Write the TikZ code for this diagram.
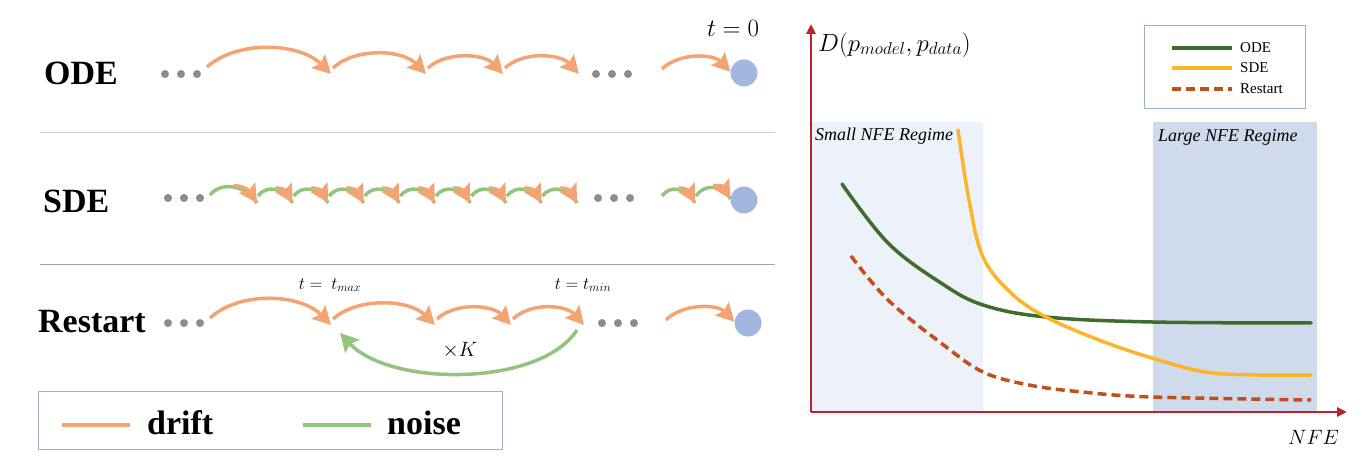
\documentclass[tikz,border=0pt]{standalone}
\usepackage{fontspec}
\setmainfont{Liberation Serif}
\usetikzlibrary{arrows.meta,calc}
\definecolor{driftc}{RGB}{243,164,114}
\definecolor{noisec}{RGB}{147,196,125}
\definecolor{dotc}{RGB}{140,140,140}
\definecolor{endc}{RGB}{162,182,222}
\definecolor{axisc}{RGB}{192,32,40}
\definecolor{odec}{RGB}{62,108,42}
\definecolor{sdec}{RGB}{252,180,40}
\definecolor{resc}{RGB}{190,80,30}
\definecolor{smallc}{RGB}{237,241,249}
\definecolor{largec}{RGB}{207,219,236}
\definecolor{legc}{RGB}{155,175,218}
\definecolor{sepa}{RGB}{205,205,205}
\definecolor{sepb}{RGB}{165,165,165}
\tikzset{
  tip/.style={-{Stealth[length=18pt,width=19pt,inset=3pt]}},
  drift/.style={draw=driftc,line width=3.5pt,tip},
  driftnt/.style={draw=driftc,line width=3.5pt},
  noise/.style={draw=noisec,line width=3.5pt},
  dotn/.style={circle,fill=dotc,inner sep=0pt,minimum size=8pt},
  endpt/.style={circle,fill=endc,inner sep=0pt,minimum size=27pt},
  rowlab/.style={anchor=base west,inner sep=0pt,font=\fontsize{34}{40}\selectfont\bfseries},
  legtxt/.style={anchor=base west,inner sep=0pt,font=\fontsize{34}{40}\selectfont\bfseries},
  smalllab/.style={inner sep=0pt,font=\fontsize{17}{19}\selectfont},
  regime/.style={anchor=west,inner sep=0pt,font=\fontsize{18}{20}\selectfont\itshape},
  axisline/.style={draw=axisc,line width=2.8pt,-{Triangle[length=10pt,width=9pt]}},
  curve/.style={line width=3.5pt,line cap=round},
  legline/.style={line width=3.5pt},
  legentry/.style={anchor=west,inner sep=0pt,font=\fontsize{15}{17}\selectfont},
}
\newcommand{\harc}[4][drift]{\draw[#1] (#2) .. controls ($(#2)!0.25!(#3)+(0,{#4*4/3})$) and ($(#3)!0.25!(#2)+(0,{#4*4/3})$) .. (#3);}
\newcommand{\sdearc}[3]{%
  \draw[noise] (#1) .. controls ($(#1)!0.25!(#2)+(0,{#3*4/3})$) and ($(#2)!0.25!(#1)+(0,{#3*4/3})$) .. (#2);
  \begin{scope}
    \clip ($(#1)!0.5!(#2)$) ++(0,-40) rectangle ++(100,80);
    \draw[drift] (#1) .. controls ($(#1)!0.25!(#2)+(0,{#3*4/3})$) and ($(#2)!0.25!(#1)+(0,{#3*4/3})$) .. (#2);
  \end{scope}}
\begin{document}
\begin{tikzpicture}[x=1pt,y=1pt]
\useasboundingbox (0,0) rectangle (1369,462);
% separators
\draw[sepa,line width=1pt] (40,329) -- (775,329);
\draw[sepb,line width=1pt] (40,197) -- (775,197);
% row labels
\node[rowlab] (lode) at (44,377) {ODE};
\node[rowlab] (lsde) at (43,249) {SDE};
\node[rowlab] (lres) at (38,129) {Restart};
% ---------- ODE row
\node[dotn] (od1) at (165,388) {};
\node[dotn] (od2) at (181,388) {};
\node[dotn] (od3) at (197,388) {};
\node[dotn] (od4) at (596,388) {};
\node[dotn] (od5) at (612,388) {};
\node[dotn] (od6) at (628,388) {};
\node[endpt] (oend) at (744,389) {};
\node[inner sep=0pt,font=\fontsize{25}{28}\selectfont] (t0) at (733,434) {$t=0$};
\coordinate (oa0) at (207,395);
\coordinate (oa1) at (331,388);
\coordinate (ob1) at (333,394);
\coordinate (oa2) at (426,388);
\coordinate (ob2) at (428,394);
\coordinate (oa3) at (503,388);
\coordinate (ob3) at (505,394);
\coordinate (oa4) at (579,388);
\coordinate (ob4) at (662,393);
\harc{oa0}{oa1}{22}
\harc{ob1}{oa2}{17}
\harc{ob2}{oa3}{14}
\harc{ob3}{oa4}{14}
\harc{ob4}{oend.175}{13}
% ---------- SDE row
\node[dotn] (sd1) at (168,264) {};
\node[dotn] (sd2) at (184,264) {};
\node[dotn] (sd3) at (200,264) {};
\node[dotn] (sd4) at (598,264) {};
\node[dotn] (sd5) at (614,264) {};
\node[dotn] (sd6) at (630,264) {};
\node[endpt] (send) at (744,262) {};
\coordinate (sa0) at (210,267);
\coordinate (sa1) at (257,259);
\sdearc{sa0}{sa1}{12}
\foreach \i [evaluate=\i as \xs using 258+35.56*\i, evaluate=\i as \xe using 292.56+35.56*\i] in {0,...,8} {
  \coordinate (ss\i) at (\xs,266);
  \coordinate (se\i) at (\xe,259);
  \sdearc{ss\i}{se\i}{10}
}
\coordinate (sx1) at (662,266);
\coordinate (sx2) at (695,259);
\coordinate (sx3) at (696,266);
\sdearc{sx1}{sx2}{10}
\sdearc{sx3}{send.175}{10}
% ---------- Restart row
\node[dotn] (rd1) at (168,139) {};
\node[dotn] (rd2) at (184,139) {};
\node[dotn] (rd3) at (200,139) {};
\node[dotn] (rd4) at (602,139) {};
\node[dotn] (rd5) at (618,139) {};
\node[dotn] (rd6) at (634,139) {};
\node[endpt] (rend) at (748,139) {};
\coordinate (ra0) at (210,144);
\coordinate (ra1) at (331,137);
\coordinate (rb1) at (333,143);
\coordinate (ra2) at (435,137);
\coordinate (rb2) at (437,143);
\coordinate (ra3) at (511,137);
\coordinate (rb3) at (513,143);
\coordinate (ra4) at (584,137);
\coordinate (rb4) at (666,142);
\harc{ra0}{ra1}{22}
\harc{rb1}{ra2}{18}
\harc{rb2}{ra3}{14}
\harc{rb3}{ra4}{14}
\harc{rb4}{rend.175}{13}
\node[smalllab] (tmax) at (330,177) {$t=\ t_{max}$};
\node[smalllab] (tmin) at (583,177) {$t=t_{min}$};
\coordinate (gs) at (577,132);
\coordinate (ge) at (340,129);
\draw[noise,tip] (gs) .. controls ($(gs)+(-37,-57)$) and ($(ge)+(50,-54)$) .. (ge);
\node[inner sep=0pt,font=\fontsize{22}{24}\selectfont] (xk) at (460,112) {$\times K$};
% ---------- left legend
\node[draw=legc,line width=1pt,minimum width=464pt,minimum height=58pt,inner sep=0pt] (leg) at (270,41) {};
\coordinate (l1a) at (62,37);
\coordinate (l1b) at (130,37);
\coordinate (l2a) at (303,37);
\coordinate (l2b) at (371,37);
\draw[driftnt] (l1a) -- (l1b);
\draw[noise] (l2a) -- (l2b);
\node[legtxt] (ldrift) at (147,27) {drift};
\node[legtxt] (lnoise) at (387,27) {noise};
% ---------- right panel
\fill[smallc] (811,50) rectangle (983,340);
\fill[largec] (1153,50) rectangle (1317,340);
\node[regime] (sreg) at (815,326) {Small NFE Regime};
\node[regime] (lreg) at (1158,325) {Large NFE Regime};
% curves
\draw[curve,odec] plot[smooth,tension=0.6] coordinates {(842,278) (888,219) (941,179) (983,157) (1046,145) (1152,140) (1311,139)};
\draw[curve,sdec] plot[smooth,tension=0.6] coordinates {(958,332) (969,262) (983,205) (1011,169) (1046,145) (1099,122) (1152,104) (1205,90) (1258,87) (1311,87)};
\draw[line width=3.5pt,resc,dash pattern=on 9pt off 5pt] plot[smooth,tension=0.6] coordinates {(851,206) (888,162) (941,119) (983,90) (1029,77) (1082,70) (1152,65) (1311,62)};
% axes
\coordinate (O) at (811,50);
\coordinate (ytop) at (811,438);
\coordinate (xend) at (1347,50);
\draw[axisline] (O) -- (ytop);
\draw[axisline] (O) -- (xend);
\node[anchor=west,inner sep=0pt,font=\fontsize{26}{28}\selectfont] (dlab) at (818,417) {$D(p_{model},p_{data})$};
\node[anchor=east,inner sep=0pt,font=\fontsize{22}{24}\selectfont] (nfe) at (1339,25) {$NFE$};
% right legend
\node[draw=legc,line width=1.2pt,minimum width=161pt,minimum height=83pt,inner sep=0pt,anchor=south west] (rleg) at (1144,353) {};
\coordinate (e1a) at (1172,414); \coordinate (e1b) at (1232,414);
\coordinate (e2a) at (1172,394); \coordinate (e2b) at (1232,394);
\coordinate (e3a) at (1172,373); \coordinate (e3b) at (1232,373);
\draw[legline,odec] (e1a) -- (e1b);
\draw[legline,sdec] (e2a) -- (e2b);
\draw[legline,resc,dash pattern=on 9pt off 5pt] (e3a) -- (e3b);
\node[legentry] (eode) at (1240,414) {ODE};
\node[legentry] (esde) at (1240,394) {SDE};
\node[legentry] (eres) at (1240,373) {Restart};
\end{tikzpicture}
\end{document}
